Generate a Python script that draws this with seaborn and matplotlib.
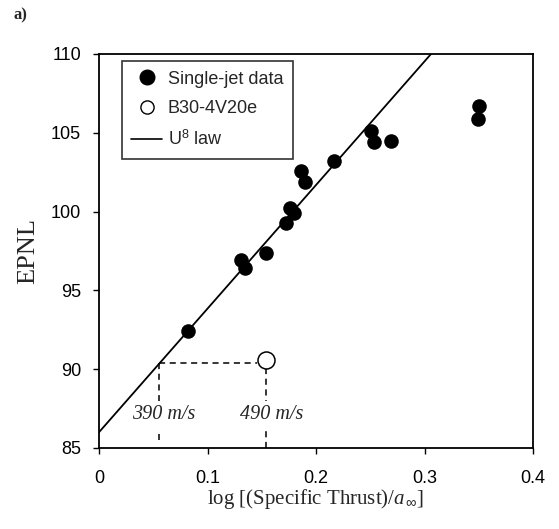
import matplotlib
matplotlib.use("Agg")
import matplotlib.pyplot as plt
import seaborn as sns
from matplotlib.lines import Line2D

# ---- data ----
jet_x = [0.082, 0.131, 0.135, 0.154, 0.172, 0.176, 0.180, 0.186, 0.190,
         0.217, 0.251, 0.253, 0.269, 0.350, 0.349]
jet_y = [92.4, 96.9, 96.4, 97.4, 99.3, 100.2, 99.9, 102.6, 101.9,
         103.2, 105.1, 104.4, 104.5, 106.7, 105.9]
b30_x = [0.154]
b30_y = [90.6]
law_x = [0.0, 0.306]
law_y = [86.0, 110.0]
ref_x = [0.055, 0.154]      # 390 m/s and 490 m/s positions
ref_y = 90.4
ref_labels = ["390 m/s", "490 m/s"]
xticks = [0, 0.1, 0.2, 0.3, 0.4]
yticks = [85, 90, 95, 100, 105, 110]

sns.set_style("ticks")
plt.rcParams['font.family'] = ['Liberation Sans', 'DejaVu Sans']
plt.rcParams['mathtext.fontset'] = 'custom'
plt.rcParams['mathtext.rm'] = 'Liberation Sans'
plt.rcParams['mathtext.it'] = 'Liberation Serif:italic'

fig = plt.figure(figsize=(5.59, 5.29), dpi=100)
ax = fig.add_axes([99/559, 1-448/529, (533-99)/559, (448-54)/529])

sns.lineplot(x=law_x, y=law_y, ax=ax, color='black', lw=1.3, zorder=2)
sns.scatterplot(x=jet_x, y=jet_y, ax=ax, color='black', s=110,
                edgecolor='black', linewidth=0, zorder=4)
sns.scatterplot(x=b30_x, y=b30_y, ax=ax, facecolor='white', s=150,
                edgecolor='black', linewidth=1.1, zorder=4)

dash = dict(color='black', lw=1.1, ls=(0, (4, 3)), zorder=3)
ax.plot([ref_x[0], ref_x[1] - 0.008], [ref_y, ref_y], **dash)
ax.plot([ref_x[0], ref_x[0]], [ref_y, 88.0], **dash)
ax.plot([ref_x[0], ref_x[0]], [85.5, 85.9], **dash)
ax.plot([ref_x[1], ref_x[1]], [b30_y[0] - 0.5, 88.0], **dash)
ax.plot([ref_x[1], ref_x[1]], [85.0, 86.1], **dash)
for xv, lab in zip(ref_x, ref_labels):
    ax.text(xv + 0.005, 87.1, lab, ha='center', va='center',
            family='Liberation Serif', style='italic', fontsize=14.5, zorder=5)

ax.set_xlim(0, 0.4)
ax.set_ylim(85, 110)
ax.set_xticks(xticks)
ax.set_xticklabels(["0", "0.1", "0.2", "0.3", "0.4"])
ax.set_yticks(yticks)
ax.tick_params(direction='out', length=4, width=1, labelsize=13, colors='black')
ax.tick_params(axis='x', pad=12)
ax.tick_params(axis='y', pad=9)
for sp in ax.spines.values():
    sp.set_visible(True)
    sp.set_linewidth(1.3)
    sp.set_color('black')

ax.set_xlabel(r"log [(Specific Thrust)/$\mathit{a}_{\,\infty}$]",
              family='Liberation Serif', fontsize=15, labelpad=0)
ax.set_ylabel("EPNL", family='Liberation Serif', fontsize=19, labelpad=8)

handles = [
    Line2D([], [], marker='o', ls='none', color='black', markersize=10.5),
    Line2D([], [], marker='o', ls='none', markerfacecolor='white',
           markeredgecolor='black', markersize=9.5),
    Line2D([], [], color='black', lw=1.2),
]
labels = ["Single-jet data", "B30-4V20e", r"U$^{\mathrm{8}}$ law"]
leg = ax.legend(handles, labels, loc='upper left', bbox_to_anchor=(0.052, 0.983),
                frameon=True, fancybox=False, fontsize=13, handlelength=1.7,
                handletextpad=0.3, borderpad=0.55, labelspacing=0.7,
                borderaxespad=0)
leg.get_frame().set_edgecolor('black')
leg.get_frame().set_linewidth(1.2)

fig.text(14/559, 1-15/529, "a)", family='Liberation Serif', fontweight='bold',
         fontsize=12, ha='left', va='center')

fig.savefig("out.png", dpi=100)
